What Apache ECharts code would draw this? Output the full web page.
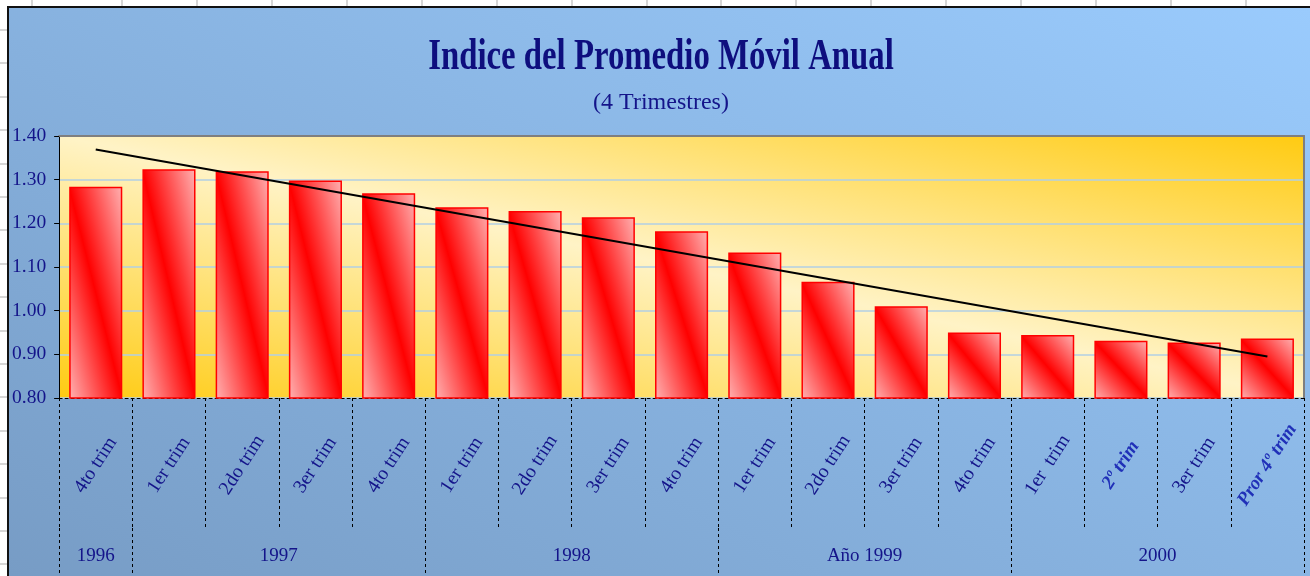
<!DOCTYPE html>
<html>
<head>
<meta charset="utf-8">
<script src="https://cdn.jsdelivr.net/npm/echarts@6/dist/echarts.min.js"></script>
<style>
  html, body { margin: 0; padding: 0; width: 1310px; height: 576px; overflow: hidden; background: #ffffff; }
  .gl { position: absolute; background: #d6d6d6; }
  #chart { position: absolute; left: 7px; top: 6px; width: 1303px; height: 570px;
           border-left: 2px solid #111; border-top: 2px solid #111; }
</style>
</head>
<body>
<div id="chart"></div>
<script>
// ---- data ----
const categories = ['4to trim', '1er trim', '2do trim', '3er trim', '4to trim',
  '1er trim', '2do trim', '3er trim', '4to trim',
  '1er trim', '2do trim', '3er trim', '4to trim',
  '1er  trim', '2º trim', '3er trim', 'Pror 4º trim'];
const values = [1.284, 1.324, 1.319, 1.298, 1.269, 1.237, 1.228, 1.214, 1.182,
  1.133, 1.066, 1.010, 0.950, 0.944, 0.931, 0.927, 0.936];
const trendStart = 1.369;   // trend line at first quarter
const trendEnd = 0.895;     // trend line at last quarter
const yearLabels = ['1996', '1997', '1998', 'Año 1999', '2000'];
const yearSpans = [1, 4, 4, 4, 4];   // quarters in each year group
const oddLabels = ['2º trim', 'Pror 4º trim'];
const titleText = 'Indice del Promedio Móvil Anual';
const subtitleText = '(4 Trimestres)';

// ---- spreadsheet cell lines behind the chart (decoration) ----
(function () {
  const xs = [31];
  for (let k = 0; k < 17; k++) xs.push(121 + 74.93 * k);
  xs.forEach(x => {
    const d = document.createElement('div');
    d.className = 'gl';
    d.style.left = Math.round(x) + 'px'; d.style.top = '0px'; d.style.width = '2px'; d.style.height = '576px';
    document.body.insertBefore(d, document.body.firstChild);
  });
  for (let k = 0; k < 18; k++) {
    const d = document.createElement('div');
    d.className = 'gl';
    d.style.left = '0px'; d.style.top = Math.round(29 + 33.4 * k) + 'px'; d.style.width = '1310px'; d.style.height = '2px';
    document.body.insertBefore(d, document.body.firstChild);
  }
})();

// derived helpers
const trend = values.map((v, i) => i === 0 ? trendStart : (i === values.length - 1 ? trendEnd : null));
const yearBounds = [0];
yearSpans.forEach(s => yearBounds.push(yearBounds[yearBounds.length - 1] + s));
const yearCenters = yearSpans.map((s, i) => yearBounds[i] + s / 2);

function diagGradient(w, h, edge, mid) {
  const L2 = w * w + h * h;
  const a = h * h / L2, b = w * w / L2;
  return new echarts.graphic.LinearGradient(0.5 - a, 0.5 + b, 0.5 + a, 0.5 - b, [
    { offset: 0, color: edge }, { offset: 0.5, color: mid }, { offset: 1, color: edge }
  ]);
}

const GRID = { left: 50, top: 128, width: 1245, height: 262 };
const navy = '#14148a';
const serif = '"Liberation Serif", "Times New Roman", serif';

const chart = echarts.init(document.getElementById('chart'), null, { renderer: 'canvas' });

const option = {
  animation: false,
  backgroundColor: new echarts.graphic.LinearGradient(0, 568, 487, -407, [
    { offset: 0, color: '#779cc5' }, { offset: 1, color: '#9acbfd' }
  ], true),
  graphic: [
    { type: 'text', x: 652, y: 50, scaleX: 0.745, scaleY: 1,
      style: { x: 0, y: 0, text: titleText, fill: '#0e0e7e', font: 'bold 44px ' + serif,
               align: 'center', verticalAlign: 'middle' } },
    { type: 'text', x: 652, y: 95,
      style: { x: 0, y: 0, text: subtitleText, fill: navy, font: '24px ' + serif,
               align: 'center', verticalAlign: 'middle' } }
  ],
  grid: Object.assign({
    show: true, borderWidth: 0,
    backgroundColor: diagGradient(1245, 262, '#ffcb12', '#fff3c6')
  }, GRID),
  xAxis: [
    {
      type: 'category', data: categories, position: 'bottom', boundaryGap: true,
      axisLine: { show: true, lineStyle: { color: '#000', width: 1, type: [3, 3] } },
      axisTick: { show: true, interval: 0, length: 130, lineStyle: { color: '#000', width: 1, type: [3, 3] } },
      axisLabel: {
        interval: 0, rotate: 57, margin: 67, align: 'center', verticalAlign: 'middle',
        color: navy, fontFamily: serif, fontSize: 19.5,
        formatter: v => oddLabels.includes(v) ? '{odd|' + v + '}' : v,
        rich: { odd: { color: '#2030b8', fontFamily: serif, fontSize: 19, fontWeight: 'bold', fontStyle: 'italic' } }
      },
      splitLine: { show: false }
    },
    {
      type: 'value', position: 'bottom', offset: 130, min: 0, max: categories.length,
      axisLine: { show: false },
      axisTick: { show: true, customValues: yearBounds, length: 60, lineStyle: { color: '#000', width: 1, type: [3, 3] } },
      axisLabel: {
        customValues: yearCenters, margin: 19, color: navy, fontFamily: serif, fontSize: 19,
        formatter: v => { const i = yearCenters.indexOf(v); return i >= 0 ? yearLabels[i] : ''; }
      },
      splitLine: { show: false }
    },
    {
      type: 'category', data: categories, position: 'top',
      axisLine: { show: true, lineStyle: { color: '#7f7f7f', width: 2 } },
      axisTick: { show: false }, axisLabel: { show: false }, splitLine: { show: false }
    }
  ],
  yAxis: [
    {
      type: 'value', min: 0.8, max: 1.4, interval: 0.1,
      axisLine: { show: true, lineStyle: { color: '#000', width: 1 } },
      axisTick: { show: true, length: 5, lineStyle: { color: '#000' } },
      axisLabel: { margin: 13, color: navy, fontFamily: serif, fontSize: 19.5, formatter: v => v.toFixed(2) },
      splitLine: { show: true, lineStyle: { color: '#b2cfe4', width: 1.5 } }
    },
    {
      type: 'value', position: 'right', min: 0.8, max: 1.4,
      axisLine: { show: true, lineStyle: { color: '#7f7f7f', width: 2 } },
      axisTick: { show: false }, axisLabel: { show: false }, splitLine: { show: false }
    }
  ],
  series: [
    {
      type: 'bar', xAxisIndex: 0, yAxisIndex: 0, data: values, barCategoryGap: '27.5%',
      itemStyle: { color: '#ff3030', borderColor: '#ff0000', borderWidth: 1.5 },
      z: 2
    },
    {
      type: 'line', xAxisIndex: 0, yAxisIndex: 0, data: trend, connectNulls: true,
      symbol: 'none', lineStyle: { color: '#000', width: 2 }, z: 5
    }
  ]
};
chart.setOption(option);

// per-bar diagonal gradient (depends on each bar's pixel aspect ratio)
const y0 = chart.convertToPixel({ yAxisIndex: 0 }, 0.8);
const slot = chart.convertToPixel({ xAxisIndex: 0 }, 1) - chart.convertToPixel({ xAxisIndex: 0 }, 0);
const bw = slot * (1 - 0.275);
chart.setOption({
  series: [{
    data: values.map(v => {
      const h = Math.max(1, y0 - chart.convertToPixel({ yAxisIndex: 0 }, v));
      return { value: v, itemStyle: { color: diagGradient(bw, h, '#ffb2b2', '#ff0000') } };
    })
  }, {}]
});
</script>
</body>
</html>
